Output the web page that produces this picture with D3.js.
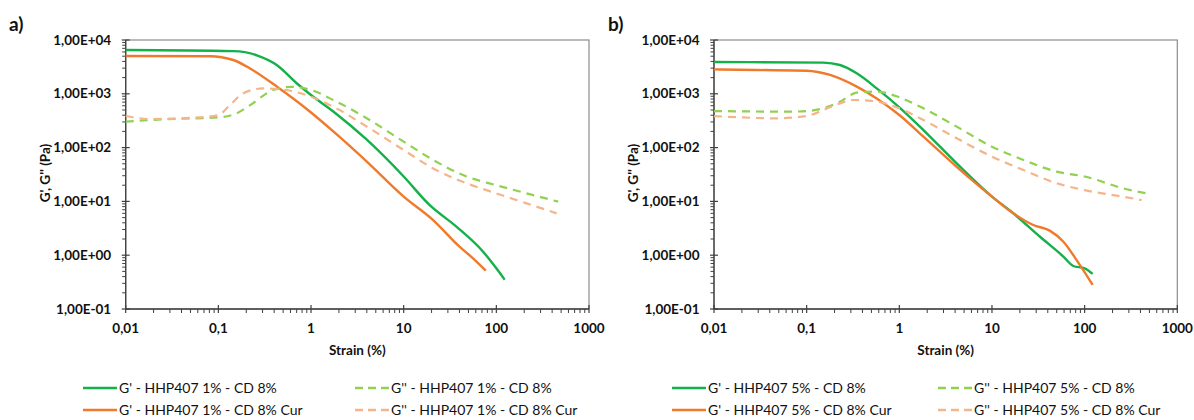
<!DOCTYPE html>
<html>
<head>
<script src="https://cdn.jsdelivr.net/npm/d3@7"></script>
<style>
  body { margin: 0; background: #fff; }
  svg text { font-family: Lato, "Liberation Sans", sans-serif; fill: #111; }
</style>
</head>
<body>
<svg id="chart" width="1194" height="420"></svg>
<script>
  // strain (%) / modulus (Pa) pairs
  var a_gp_x  = [0.01, 0.145, 0.26, 0.43, 0.70, 1, 1.74, 4, 10, 19, 37, 72, 100, 123];
  var a_gp_y  = [6500, 6200, 5200, 3400, 1570, 950, 470, 140, 29, 8.6, 3.4, 1.16, 0.57, 0.35];
  var a_gpc_x = [0.01, 0.081, 0.145, 0.22, 0.43, 1, 1.74, 4, 10, 20.8, 40, 56, 77];
  var a_gpc_y = [5050, 5000, 4250, 2950, 1350, 450, 200, 55, 12.3, 4.5, 1.44, 0.875, 0.515];
  var a_gpp_x  = [0.01, 0.028, 0.1, 0.157, 0.22, 0.39, 0.62, 1, 1.74, 4, 10, 20.8, 47.6, 100, 212, 465];
  var a_gpp_y  = [303, 338, 365, 433, 615, 1175, 1350, 1175, 767, 351, 129, 59, 29, 20, 14.1, 9.9];
  var a_gppc_x = [0.01, 0.018, 0.063, 0.1, 0.133, 0.186, 0.305, 0.54, 1, 1.74, 4, 10, 20.8, 47.6, 100, 212, 447];
  var a_gppc_y = [386, 340, 365, 400, 615, 1025, 1260, 1175, 880, 575, 245, 90, 41, 21.7, 14.1, 9.2, 6.0];

  var b_gp_x  = [0.01, 0.151, 0.229, 0.347, 0.57, 1, 1.82, 4.16, 10, 17, 33, 59, 75.5, 100, 122];
  var b_gp_y  = [3900, 3800, 3430, 2400, 1260, 560, 212, 51, 12.3, 6.0, 2.2, 0.94, 0.63, 0.57, 0.45];
  var b_gpc_x = [0.01, 0.029, 0.1, 0.179, 0.347, 0.57, 1, 1.82, 4.16, 10, 17, 27.9, 42, 59, 82, 122];
  var b_gpc_y = [2850, 2770, 2690, 2240, 1360, 822, 404, 160, 44, 12.3, 6.0, 3.64, 2.86, 1.78, 0.81, 0.28];
  var b_gpp_x  = [0.01, 0.066, 0.1, 0.151, 0.229, 0.347, 0.57, 1, 1.82, 4.16, 10, 21.8, 50, 100, 261, 507];
  var b_gpp_y  = [478, 466, 478, 537, 714, 1050, 1100, 860, 537, 245, 104, 59, 35.7, 29, 17.5, 13.7];
  var b_gppc_x = [0.01, 0.019, 0.044, 0.1, 0.151, 0.229, 0.319, 0.57, 1, 1.82, 4.16, 10, 21.8, 50, 100, 261, 412];
  var b_gppc_y = [386, 365, 350, 386, 500, 665, 767, 714, 537, 326, 149, 68, 38.4, 21.7, 16.2, 12.2, 10.6];

  var xTicks = [0.01, 0.1, 1, 10, 100, 1000];
  var xTickLabels = ["0,01", "0,1", "1", "10", "100", "1000"];
  var yTicks = [0.1, 1, 10, 100, 1000, 10000];
  var yTickLabels = ["1,00E-01", "1,00E+00", "1,00E+01", "1,00E+02", "1,00E+03", "1,00E+04"];

  var names_a = ["G' - HHP407 1% - CD 8%", "G' - HHP407 1% - CD 8% Cur", "G'' - HHP407 1% - CD 8%", "G'' - HHP407 1% - CD 8% Cur"];
  var names_b = ["G' - HHP407 5% - CD 8%", "G' - HHP407 5% - CD 8% Cur", "G'' - HHP407 5% - CD 8%", "G'' - HHP407 5% - CD 8% Cur"];

  var colGp = "#14b04a", colGpc = "#f07a2c", colGpp = "#92d050", colGppc = "#f6b48a";

  var svg = d3.select("#chart");

  function drawPanel(opt) {
    var g = svg.append("g");
    var x = d3.scaleLog().domain([0.01, 1000]).range([opt.left, opt.right]);
    var y = d3.scaleLog().domain([0.1, 10000]).range([309, 40]);

    // frame
    g.append("rect")
      .attr("x", opt.left).attr("y", 40)
      .attr("width", opt.right - opt.left).attr("height", 269)
      .attr("fill", "none").attr("stroke", "#8c8c8c").attr("stroke-width", 1.2);

    // minor ticks
    var minor = [];
    for (var e = -2; e < 3; e++) for (var k = 2; k < 10; k++) minor.push(k * Math.pow(10, e));
    g.selectAll(".mx").data(minor).enter().append("line")
      .attr("x1", d => x(d)).attr("x2", d => x(d))
      .attr("y1", 309).attr("y2", 313)
      .attr("stroke", "#404040").attr("stroke-width", 1);
    var minorY = [];
    for (var e2 = -1; e2 < 4; e2++) for (var k2 = 2; k2 < 10; k2++) minorY.push(k2 * Math.pow(10, e2));
    g.selectAll(".my").data(minorY).enter().append("line")
      .attr("x1", opt.left - 3.5).attr("x2", opt.left)
      .attr("y1", d => y(d)).attr("y2", d => y(d))
      .attr("stroke", "#404040").attr("stroke-width", 1);

    // major ticks, crossing the axis
    g.selectAll(".Mx").data(xTicks).enter().append("line")
      .attr("x1", d => x(d)).attr("x2", d => x(d))
      .attr("y1", 305).attr("y2", 313)
      .attr("stroke", "#404040").attr("stroke-width", 1.2);
    g.selectAll(".My").data(yTicks).enter().append("line")
      .attr("x1", opt.left - 4).attr("x2", opt.left + 4)
      .attr("y1", d => y(d)).attr("y2", d => y(d))
      .attr("stroke", "#404040").attr("stroke-width", 1.2);

    // axis lines
    g.append("line").attr("x1", opt.left).attr("x2", opt.right).attr("y1", 309).attr("y2", 309)
      .attr("stroke", "#404040").attr("stroke-width", 1.3);
    g.append("line").attr("x1", opt.left).attr("x2", opt.left).attr("y1", 40).attr("y2", 309)
      .attr("stroke", "#404040").attr("stroke-width", 1.3);

    g.selectAll(".xl").data(xTicks).enter().append("text")
      .attr("x", d => x(d)).attr("y", 333)
      .attr("text-anchor", "middle").attr("font-size", 13.5).attr("font-weight", "bold")
      .text((d, i) => xTickLabels[i]);
    g.selectAll(".yl").data(yTicks).enter().append("text")
      .attr("x", opt.left - 14.5).attr("y", d => y(d) + 4.5)
      .attr("text-anchor", "end").attr("font-size", 13.5).attr("font-weight", "bold")
      .text((d, i) => yTickLabels[i]);

    g.append("text").attr("x", (opt.left + opt.right) / 2).attr("y", 355)
      .attr("text-anchor", "middle").attr("font-size", 13.5).attr("font-weight", "bold")
      .text("Strain (%)");
    g.append("text")
      .attr("transform", "translate(" + (opt.left - 76) + ",173) rotate(-90)")
      .attr("text-anchor", "middle").attr("font-size", 13.5).attr("font-weight", "bold")
      .text("G', G'' (Pa)");
    g.append("text").attr("x", opt.labelX).attr("y", 31)
      .attr("font-size", 19).attr("font-weight", "bold").text(opt.label);

    var line = d3.line().x(d => x(d[0])).y(d => y(d[1])).curve(d3.curveMonotoneX);
    opt.series.forEach(function (s) {
      g.append("path")
        .attr("d", line(d3.zip(s.xs, s.ys)))
        .attr("fill", "none").attr("stroke", s.color)
        .attr("stroke-width", s.dash ? 2.2 : 2.4)
        .attr("stroke-dasharray", s.dash ? "8,6" : null);
    });

    // legend
    var leg = [
      { x: opt.leg1, y: 388, s: opt.series[0] },
      { x: opt.leg1, y: 410, s: opt.series[1] },
      { x: opt.leg2, y: 388, s: opt.series[2] },
      { x: opt.leg2, y: 410, s: opt.series[3] }
    ];
    leg.forEach(function (l) {
      g.append("line").attr("x1", l.x).attr("x2", l.x + 34).attr("y1", l.y).attr("y2", l.y)
        .attr("stroke", l.s.color).attr("stroke-width", 2.4)
        .attr("stroke-dasharray", l.s.dash ? "8,5" : null);
      g.append("text").attr("x", l.x + 36).attr("y", l.y + 5)
        .attr("font-size", 14).text(l.s.name);
    });
  }

  drawPanel({
    left: 125.7, right: 589, label: "a)", labelX: 9, leg1: 83, leg2: 355,
    series: [
      { xs: a_gp_x, ys: a_gp_y, color: colGp, name: names_a[0] },
      { xs: a_gpc_x, ys: a_gpc_y, color: colGpc, name: names_a[1] },
      { xs: a_gpp_x, ys: a_gpp_y, color: colGpp, dash: true, name: names_a[2] },
      { xs: a_gppc_x, ys: a_gppc_y, color: colGppc, dash: true, name: names_a[3] }
    ]
  });
  drawPanel({
    left: 714, right: 1177.3, label: "b)", labelX: 608, leg1: 672, leg2: 938,
    series: [
      { xs: b_gp_x, ys: b_gp_y, color: colGp, name: names_b[0] },
      { xs: b_gpc_x, ys: b_gpc_y, color: colGpc, name: names_b[1] },
      { xs: b_gpp_x, ys: b_gpp_y, color: colGpp, dash: true, name: names_b[2] },
      { xs: b_gppc_x, ys: b_gppc_y, color: colGppc, dash: true, name: names_b[3] }
    ]
  });
</script>
</body>
</html>
